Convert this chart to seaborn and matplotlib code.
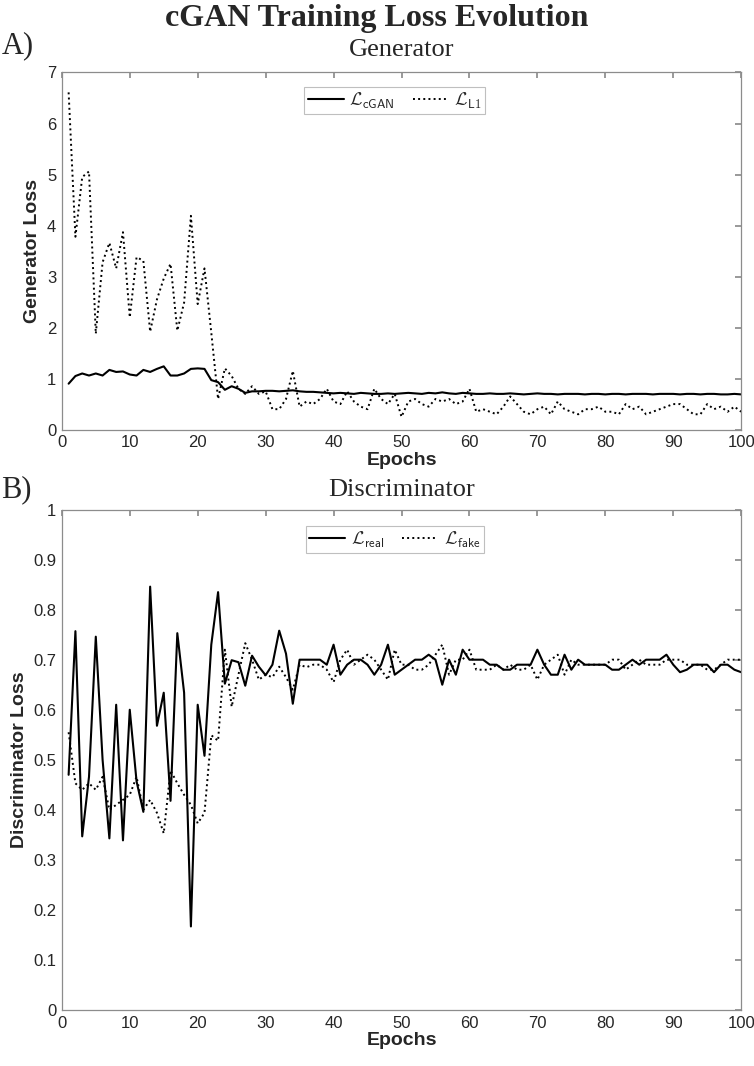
import numpy as np
import pandas as pd
import matplotlib
matplotlib.use("Agg")
import matplotlib.pyplot as plt
import seaborn as sns
from matplotlib.lines import Line2D

# ---- data ----
epochs = list(range(1, 101))

gen_cgan = [0.90, 1.05, 1.10, 1.06, 1.10, 1.06, 1.17, 1.13, 1.14, 1.08,
            1.06, 1.17, 1.13, 1.19, 1.24, 1.06, 1.06, 1.10, 1.19, 1.20,
            1.19, 0.97, 0.93, 0.78, 0.85, 0.80, 0.72, 0.75, 0.75, 0.76,
            0.76, 0.75, 0.76, 0.77, 0.75, 0.74, 0.74, 0.73, 0.72, 0.71,
            0.72, 0.71, 0.70, 0.72, 0.71, 0.70, 0.70, 0.71, 0.70, 0.71,
            0.72, 0.71, 0.70, 0.72, 0.71, 0.73, 0.71, 0.70, 0.72, 0.71,
            0.70, 0.70, 0.71, 0.70, 0.70, 0.71, 0.70, 0.69, 0.70, 0.71,
            0.70, 0.70, 0.69, 0.70, 0.70, 0.70, 0.69, 0.70, 0.70, 0.69,
            0.70, 0.70, 0.69, 0.70, 0.70, 0.70, 0.69, 0.70, 0.70, 0.70,
            0.69, 0.70, 0.70, 0.69, 0.70, 0.70, 0.69, 0.69, 0.70, 0.69]

gen_l1 = [6.61, 3.78, 4.95, 5.06, 1.88, 3.28, 3.66, 3.16, 3.87, 2.20,
          3.38, 3.31, 1.92, 2.55, 2.96, 3.25, 1.94, 2.49, 4.19, 2.46,
          3.16, 1.90, 0.60, 1.20, 1.05, 0.80, 0.70, 0.85, 0.70, 0.75,
          0.40, 0.40, 0.60, 1.15, 0.45, 0.55, 0.50, 0.60, 0.80, 0.55,
          0.50, 0.75, 0.55, 0.45, 0.40, 0.80, 0.60, 0.50, 0.70, 0.25,
          0.55, 0.60, 0.50, 0.45, 0.60, 0.55, 0.60, 0.50, 0.55, 0.80,
          0.35, 0.40, 0.35, 0.30, 0.45, 0.65, 0.50, 0.35, 0.30, 0.40,
          0.45, 0.30, 0.55, 0.40, 0.35, 0.30, 0.40, 0.40, 0.45, 0.35,
          0.35, 0.30, 0.50, 0.40, 0.45, 0.30, 0.35, 0.40, 0.45, 0.50,
          0.50, 0.40, 0.30, 0.30, 0.50, 0.40, 0.45, 0.35, 0.45, 0.35]

disc_real = [0.470, 0.757, 0.347, 0.466, 0.746, 0.500, 0.343, 0.610, 0.339, 0.600,
             0.457, 0.396, 0.846, 0.568, 0.634, 0.418, 0.753, 0.634, 0.167, 0.610,
             0.508, 0.730, 0.835, 0.652, 0.699, 0.695, 0.648, 0.708, 0.686, 0.669,
             0.690, 0.758, 0.712, 0.612, 0.700, 0.700, 0.700, 0.700, 0.690, 0.730,
             0.670, 0.690, 0.700, 0.700, 0.690, 0.670, 0.690, 0.730, 0.670, 0.680,
             0.690, 0.700, 0.700, 0.710, 0.700, 0.650, 0.700, 0.670, 0.720, 0.700,
             0.700, 0.700, 0.690, 0.690, 0.680, 0.680, 0.690, 0.690, 0.690, 0.720,
             0.690, 0.670, 0.670, 0.710, 0.680, 0.700, 0.690, 0.690, 0.690, 0.690,
             0.680, 0.680, 0.690, 0.700, 0.690, 0.700, 0.700, 0.700, 0.710, 0.690,
             0.675, 0.680, 0.690, 0.690, 0.690, 0.675, 0.690, 0.690, 0.680, 0.675]

disc_fake = [0.555, 0.453, 0.440, 0.453, 0.440, 0.466, 0.400, 0.410, 0.420, 0.430,
             0.466, 0.400, 0.420, 0.394, 0.353, 0.479, 0.453, 0.430, 0.410, 0.373,
             0.394, 0.549, 0.538, 0.720, 0.606, 0.670, 0.733, 0.700, 0.660, 0.670,
             0.665, 0.686, 0.665, 0.640, 0.690, 0.685, 0.690, 0.690, 0.680, 0.655,
             0.700, 0.720, 0.690, 0.700, 0.710, 0.700, 0.680, 0.660, 0.720, 0.690,
             0.690, 0.680, 0.680, 0.690, 0.710, 0.730, 0.670, 0.700, 0.700, 0.720,
             0.680, 0.680, 0.680, 0.690, 0.680, 0.690, 0.680, 0.680, 0.690, 0.660,
             0.690, 0.700, 0.710, 0.670, 0.700, 0.690, 0.690, 0.690, 0.690, 0.690,
             0.700, 0.700, 0.680, 0.690, 0.700, 0.690, 0.690, 0.690, 0.700, 0.700,
             0.700, 0.690, 0.690, 0.690, 0.680, 0.680, 0.690, 0.700, 0.700, 0.700]

gen_labels = [r'$\mathcal{L}_{\mathsf{cGAN}}$', r'$\mathcal{L}_{\mathsf{L1}}$']
disc_labels = [r'$\mathcal{L}_{\mathsf{real}}$', r'$\mathcal{L}_{\mathsf{fake}}$']

sns.set_theme(style="white")
plt.rcParams['font.family'] = ['Liberation Sans', 'DejaVu Sans']
plt.rcParams['mathtext.fontset'] = 'cm'
plt.rcParams['mathtext.sf'] = 'Liberation Sans'

SERIF = ['Liberation Serif', 'DejaVu Serif']
EDGE = '#8c8c8c'


def style_axes(ax, ymax, ystep, ylabel):
    ax.set_xlim(0, 100)
    ax.set_ylim(0, ymax)
    ax.set_xticks(np.arange(0, 101, 10))
    ax.set_yticks(np.arange(0, ymax + ystep / 2, ystep))
    ax.tick_params(direction='in', top=True, right=True, length=4,
                   color=EDGE, labelsize=12, labelcolor='#262626', pad=4)
    for s in ax.spines.values():
        s.set_color(EDGE)
        s.set_linewidth(0.9)
    ax.set_xlabel('Epochs', fontsize=14, fontweight='bold', color='#262626', labelpad=1)
    ax.set_ylabel(ylabel, fontsize=14, fontweight='bold', color='#262626', labelpad=4)


def draw_panel(ax, solid, dotted, labels):
    df = pd.DataFrame({'epoch': epochs * 2,
                       'loss': solid + dotted,
                       'series': [labels[0]] * len(epochs) + [labels[1]] * len(epochs)})
    sns.lineplot(data=df, x='epoch', y='loss', hue='series', style='series',
                 palette=['black', 'black'], dashes=[(None, None), (1, 1)],
                 linewidth=1.5, ax=ax, legend=False)
    ax.lines[1].set_linestyle(':')
    ax.lines[1].set_linewidth(1.4)
    handles = [Line2D([], [], color='black', lw=1.5, ls='-'),
               Line2D([], [], color='black', lw=1.4, ls=':')]
    leg = ax.legend(handles, labels, loc='upper center', ncol=2, fontsize=13,
                    frameon=True, fancybox=False, edgecolor='#b0b0b0',
                    handlelength=2.0, handletextpad=0.3, columnspacing=1.0,
                    borderpad=0.2, bbox_to_anchor=(0.49, 0.985))
    leg.get_frame().set_linewidth(0.8)


fig = plt.figure(figsize=(7.54, 10.66), dpi=100)
ax1 = fig.add_axes([0.082, 0.597, 0.901, 0.335])
ax2 = fig.add_axes([0.082, 0.0525, 0.901, 0.4695])

draw_panel(ax1, gen_cgan, gen_l1, gen_labels)
style_axes(ax1, 7, 1, 'Generator Loss')
ax1.set_yticklabels([str(v) for v in range(0, 8)])

draw_panel(ax2, disc_real, disc_fake, disc_labels)
style_axes(ax2, 1.0, 0.1, 'Discriminator Loss')
ax2.set_yticklabels(['0'] + ['%.1f' % v for v in np.arange(0.1, 0.95, 0.1)] + ['1'])

ax1.set_title('Generator', fontsize=19, family=SERIF, pad=12)
ax2.set_title('Discriminator', fontsize=19, family=SERIF, pad=10)
fig.text(0.5, 0.983, 'cGAN Training Loss Evolution', ha='center', va='center',
         fontsize=23, fontweight='bold', family=SERIF)
fig.text(0.002, 0.957, 'A)', ha='left', va='center', fontsize=22, family=SERIF)
fig.text(0.002, 0.541, 'B)', ha='left', va='center', fontsize=22, family=SERIF)

fig.savefig('out.png', dpi=100)
